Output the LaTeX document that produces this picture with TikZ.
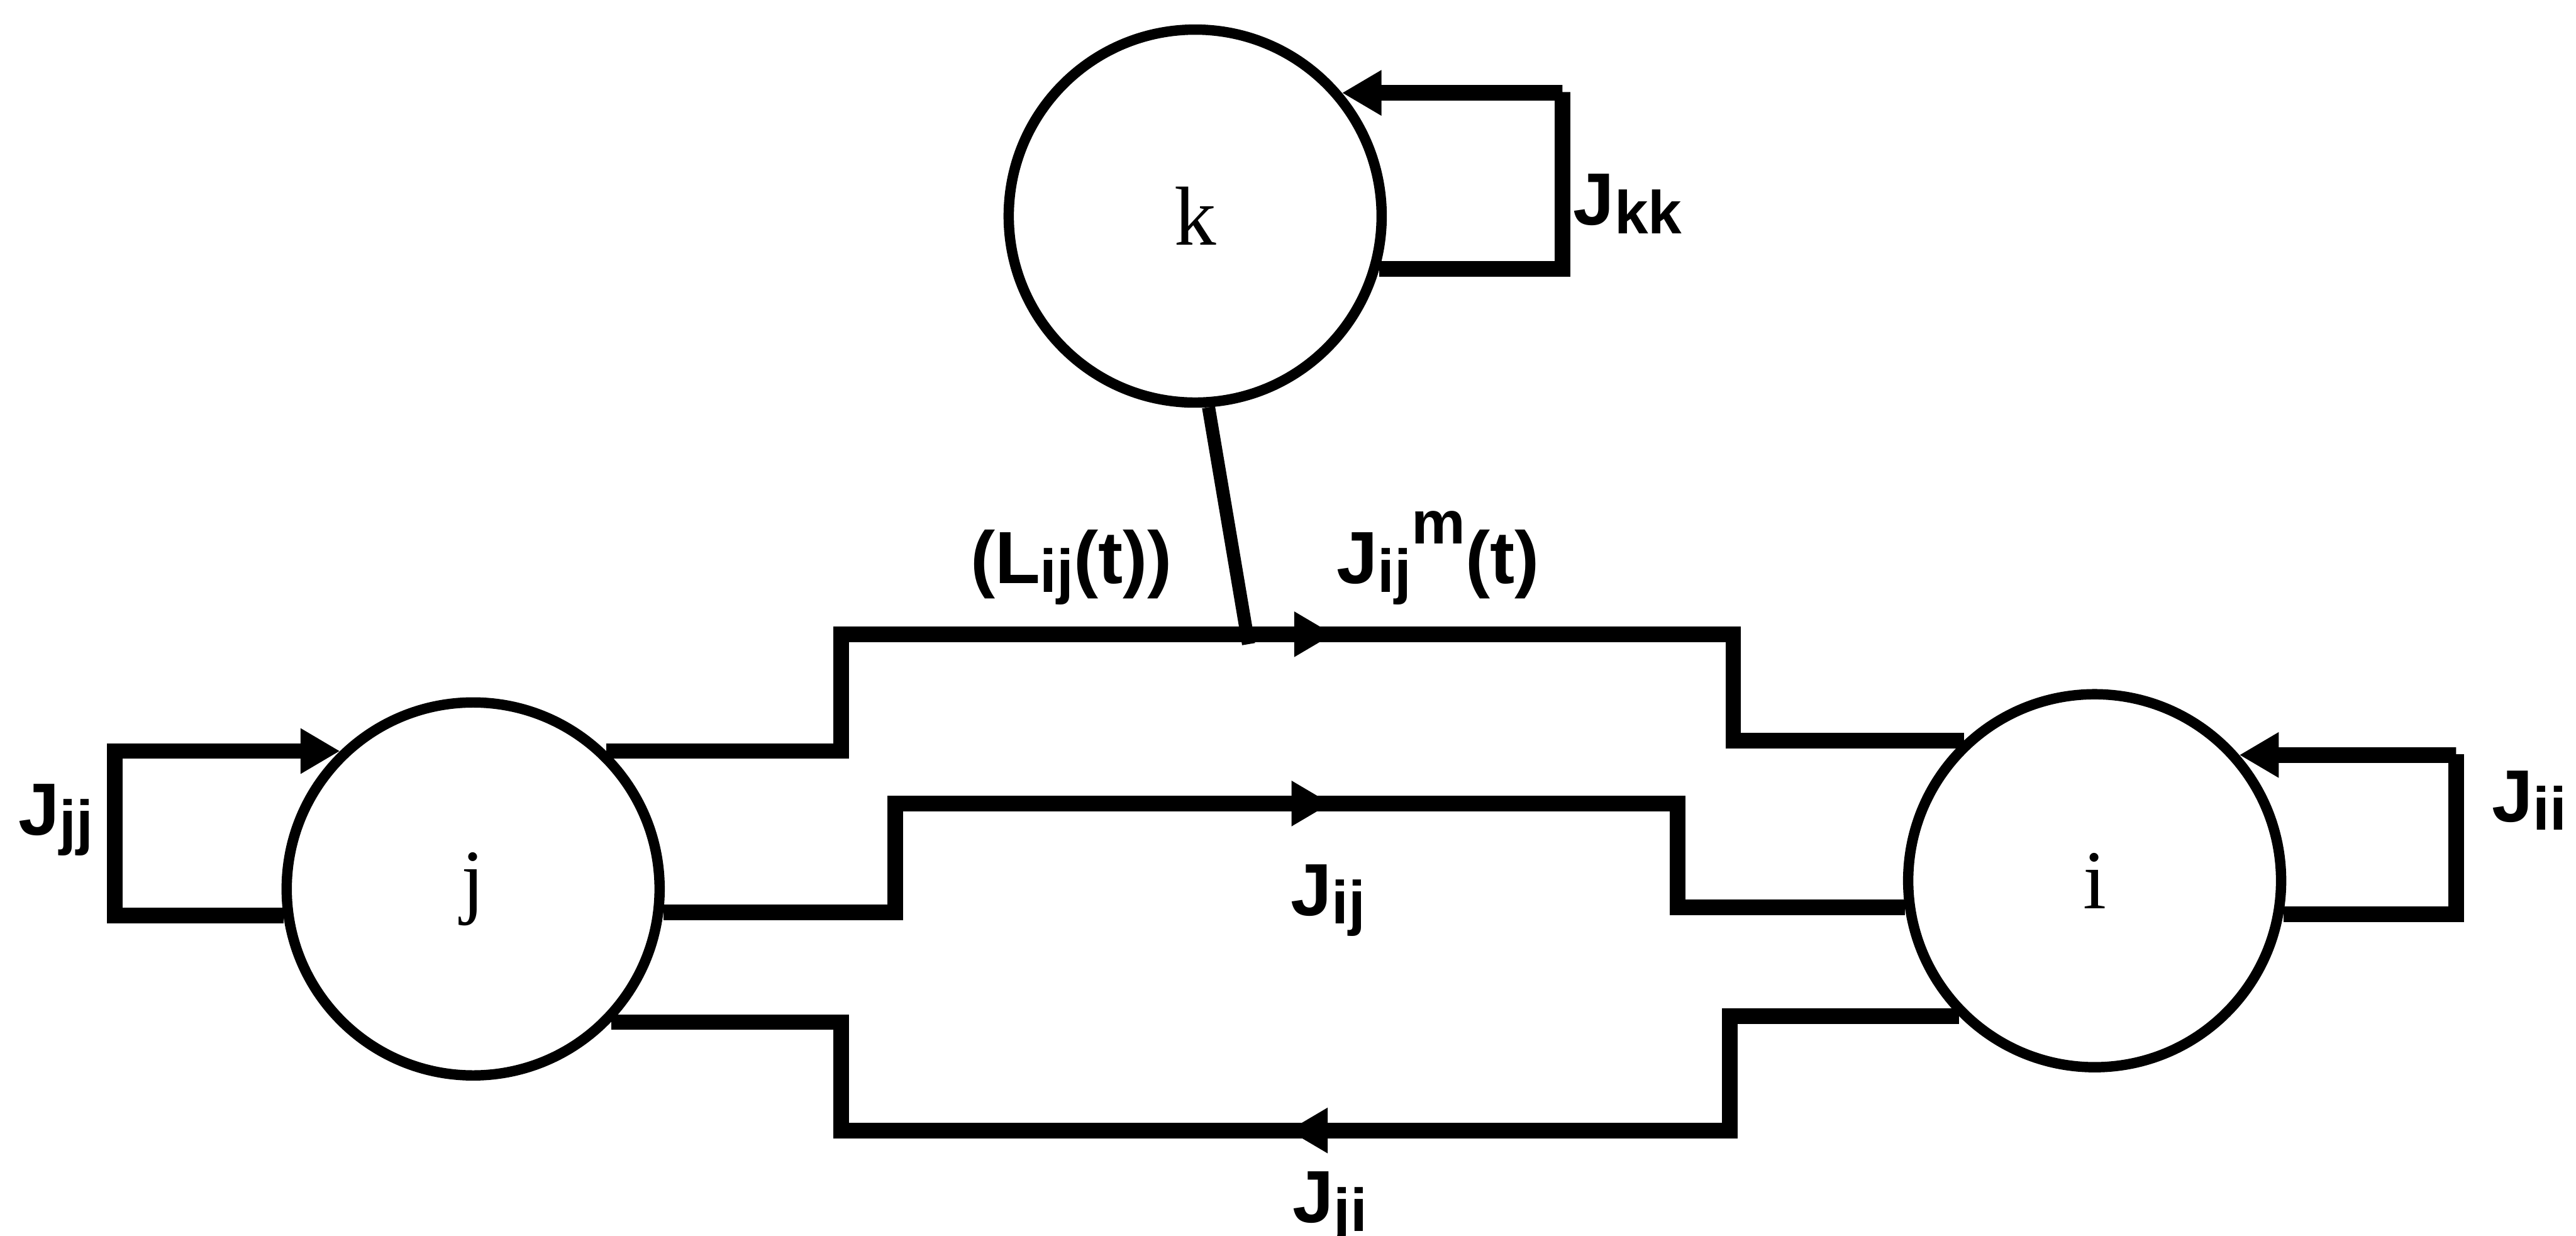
\documentclass[tikz,border=0pt]{standalone}
\usepackage{fontspec}
\setmainfont{Liberation Serif}
\newfontfamily\labfont{Liberation Sans}
\usetikzlibrary{arrows.meta,decorations.markings}
\newcommand\lsb[1]{\raisebox{-1.5pt}{\fontsize{10.5}{10.5}\selectfont #1}}
\newcommand\lsp[1]{\raisebox{6.8pt}{\fontsize{10.5}{10.5}\selectfont #1}}
\begin{document}
\begin{tikzpicture}[x=0.1mm,y=-0.1mm,
  agent/.style={circle, draw, line width=0.63mm, minimum size=22.7mm, inner sep=0pt, font=\fontsize{14.5}{14.5}\selectfont},
  wire/.style={line width=0.95mm},
  tipin/.style={-{Triangle[length=2.4mm,width=2.6mm]}},
  lbl/.style={inner sep=0pt, anchor=base west, font=\labfont\bfseries\fontsize{12.8}{12.8}\selectfont},
  flowmark/.style={postaction=decorate, decoration={markings, mark=at position #1 with {\arrow{Triangle[length=2.4mm,width=2.6mm]}}}}
]
\useasboundingbox (0,0) rectangle (1568,752);

% agents
\node[agent] (k) at (727.5,131.5) {k};
\node[agent] (j) at (288,541) {j};
\node[agent] (i) at (1275,536) {i};

% corner coordinates
\coordinate (t1) at (512,386);
\coordinate (t2) at (1055,386);
\coordinate (m1) at (545,489);
\coordinate (m2) at (1021,489);
\coordinate (b1) at (512,688);
\coordinate (b2) at (1053,688);
\coordinate (kk1) at (951,56);
\coordinate (jj1) at (70,458);
\coordinate (ii1) at (1495,459);
\coordinate (kl) at (760,392);

% wires between j and i
\draw[wire] (j.46.6) -| (t1) -- (t2) |- (i.133.4);
\draw[wire, flowmark=0.552] (t1) -- (t2);
\draw[wire] (j.-7.4) -| (m1) -- (m2) |- (i.188.4);
\draw[wire, flowmark=0.557] (m1) -- (m2);
\draw[wire] (i.225.2) -| (b2) -- (b1) |- (j.-44.5);
\draw[wire, flowmark=0.497] (b2) -- (b1);

% self loops
\draw[wire, tipin] (k.-16.1) -| (kk1) |- (k.40.2);
\draw[wire, tipin] (j.188.4) -| (jj1) |- (j.134.8);
\draw[wire, tipin] (i.-10.8) -| (ii1) |- (i.41.2);

% k to top wire
\draw[line width=0.8mm] (k.-86.6) -- (kl);

% labels
\node[lbl] (lkk) at (957,137) {J\lsb{kk}};
\node[lbl] (ljj) at (10.6,508) {J\lsb{jj}};
\node[lbl] (lii) at (1516,500) {J\lsb{ii}};
\node[lbl] (lL) at (590,355) {(L\lsb{ij}(t))};
\node[lbl] (lm) at (813,355) {J\lsb{ij}\lsp{m}(t)};
\node[lbl] (lij) at (785,557) {J\lsb{ij}};
\node[lbl] (lji) at (786,744) {J\lsb{ji}};
\end{tikzpicture}
\end{document}
